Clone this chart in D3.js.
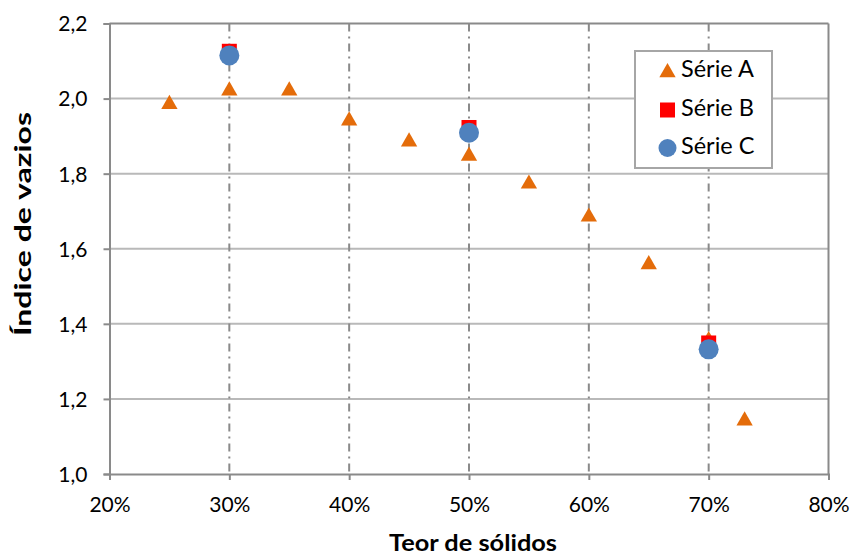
<!DOCTYPE html>
<html>
<head>
<meta charset="utf-8">
<script src="https://cdn.jsdelivr.net/npm/d3@7"></script>
<style>
  body { margin: 0; background: #fff; }
  svg { font-family: Lato, "Open Sans", sans-serif; }
</style>
</head>
<body>
<div id="chart"></div>
<script>
// data
const serieA_x = [0.25, 0.30, 0.35, 0.40, 0.45, 0.50, 0.55, 0.60, 0.65, 0.70, 0.73];
const serieA_y = [1.989, 2.025, 2.025, 1.945, 1.889, 1.851, 1.777, 1.689, 1.562, 1.36, 1.146];
const serieB_x = [0.30, 0.50, 0.70];
const serieB_y = [2.126, 1.923, 1.349];
const serieC_x = [0.30, 0.50, 0.70];
const serieC_y = [2.115, 1.909, 1.332];
const xTicks = [0.2, 0.3, 0.4, 0.5, 0.6, 0.7, 0.8];
const yTicks = [1.0, 1.2, 1.4, 1.6, 1.8, 2.0, 2.2];
const legendNames = ['Série A', 'Série B', 'Série C'];

const width = 852, height = 556;
const plotLeft = 109.5, plotRight = 828.5, plotTop = 23.5, plotBottom = 474;

const svg = d3.select('#chart').append('svg')
  .attr('width', width)
  .attr('height', height);

const x = d3.scaleLinear().domain([0.2, 0.8]).range([plotLeft, plotRight]);
const y = d3.scaleLinear().domain([1.0, 2.2]).range([plotBottom, plotTop]);

// horizontal grid
svg.append('g')
  .selectAll('line')
  .data(yTicks.filter(d => d > 1.0 && d < 2.2))
  .join('line')
    .attr('x1', plotLeft).attr('x2', plotRight)
    .attr('y1', d => y(d)).attr('y2', d => y(d))
    .attr('stroke', '#b9b9b9')
    .attr('stroke-width', 2);

// vertical grid, dash dot
svg.append('g')
  .selectAll('line')
  .data(xTicks.filter(d => d > 0.2 && d < 0.8))
  .join('line')
    .attr('x1', d => x(d)).attr('x2', d => x(d))
    .attr('y1', plotTop).attr('y2', plotBottom)
    .attr('stroke', '#8a8a8a')
    .attr('stroke-width', 2)
    .style('stroke-dasharray', '8,5,2,5');

// frame (top + right)
svg.append('line')
  .attr('x1', plotLeft).attr('x2', plotRight).attr('y1', plotTop).attr('y2', plotTop)
  .attr('stroke', '#8a8a8a').attr('stroke-width', 2);
svg.append('line')
  .attr('x1', plotRight).attr('x2', plotRight).attr('y1', plotTop).attr('y2', plotBottom)
  .attr('stroke', '#8a8a8a').attr('stroke-width', 2);

// axes
const fmtY = d => d3.format('.1f')(d).replace('.', ',');
const fmtX = d => Math.round(d * 100) + '%';

const xAxis = svg.append('g')
  .attr('transform', `translate(0,${plotBottom})`)
  .call(d3.axisBottom(x).tickValues(xTicks).tickFormat(fmtX).tickSize(6).tickPadding(17));
const yAxis = svg.append('g')
  .attr('transform', `translate(${plotLeft},0)`)
  .call(d3.axisLeft(y).tickValues(yTicks).tickFormat(fmtY).tickSize(6).tickPadding(16));

[xAxis, yAxis].forEach(a => {
  a.select('.domain').attr('stroke', '#8a8a8a').attr('stroke-width', 2);
  a.selectAll('.tick line').attr('stroke', '#8a8a8a').attr('stroke-width', 2);
  a.selectAll('text')
    .attr('fill', '#000')
    .style('font-family', 'Lato, sans-serif')
    .style('font-size', '21px');
});
yAxis.selectAll('text').attr('dy', '0.35em');

// axis titles
svg.append('text')
  .attr('x', 473)
  .attr('y', 551)
  .attr('text-anchor', 'middle')
  .attr('textLength', 168)
  .attr('lengthAdjust', 'spacingAndGlyphs')
  .style('font-weight', 'bold')
  .style('font-size', '23px')
  .text('Teor de sólidos');

svg.append('text')
  .attr('transform', 'translate(25,224) rotate(-90)')
  .attr('text-anchor', 'middle')
  .attr('dominant-baseline', 'middle')
  .attr('textLength', 224)
  .attr('lengthAdjust', 'spacingAndGlyphs')
  .style('font-weight', 'bold')
  .style('font-size', '23px')
  .text('Índice de vazios');

const triangle = d3.symbol().type(d3.symbolTriangle).size(115);

// series A
svg.append('g')
  .selectAll('path')
  .data(serieA_x.map((d, i) => [d, serieA_y[i]]))
  .join('path')
    .attr('d', triangle)
    .attr('transform', d => `translate(${x(d[0])},${y(d[1]) + 1.5})`)
    .attr('fill', '#e46c0a');

// series B
svg.append('g')
  .selectAll('rect')
  .data(serieB_x.map((d, i) => [d, serieB_y[i]]))
  .join('rect')
    .attr('x', d => x(d[0]) - 7.5)
    .attr('y', d => y(d[1]) - 7.5)
    .attr('width', 15).attr('height', 15)
    .attr('fill', '#ff0000');

// series C
svg.append('g')
  .selectAll('circle')
  .data(serieC_x.map((d, i) => [d, serieC_y[i]]))
  .join('circle')
    .attr('cx', d => x(d[0]))
    .attr('cy', d => y(d[1]))
    .attr('r', 10)
    .attr('fill', '#4f81bd');

// legend
const lg = svg.append('g');
lg.append('rect')
  .attr('x', 635).attr('y', 51)
  .attr('width', 137).attr('height', 117)
  .attr('fill', '#fff')
  .attr('stroke', '#a6a6a6')
  .attr('stroke-width', 2);

const rowY = [71, 110, 148];
const lx = 667.5;
lg.append('path')
  .attr('d', triangle)
  .attr('transform', `translate(${lx},${rowY[0] + 1.5})`)
  .attr('fill', '#e46c0a');
lg.append('rect')
  .attr('x', lx - 7.5).attr('y', rowY[1] - 7.5)
  .attr('width', 15).attr('height', 15)
  .attr('fill', '#ff0000');
lg.append('circle')
  .attr('cx', lx).attr('cy', rowY[2]).attr('r', 9)
  .attr('fill', '#4f81bd');

lg.selectAll('text.leg')
  .data(legendNames)
  .join('text')
    .attr('class', 'leg')
    .attr('x', 681)
    .attr('y', (d, i) => rowY[i])
    .attr('dominant-baseline', 'middle')
    .style('font-size', '23.5px')
    .text(d => d);
</script>
</body>
</html>
